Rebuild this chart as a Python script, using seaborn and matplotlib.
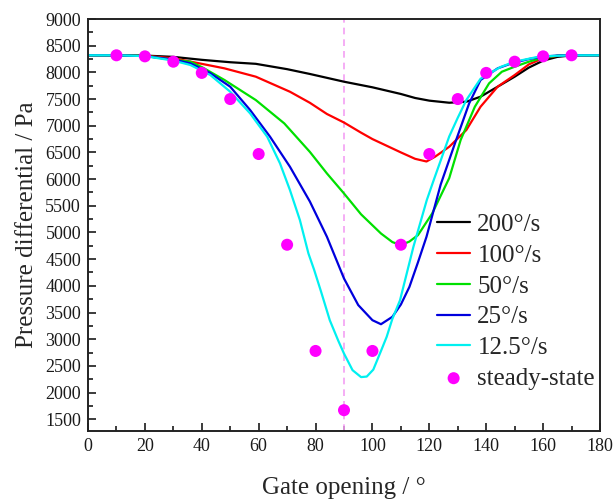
import numpy as np
import pandas as pd
import matplotlib
matplotlib.use("Agg")
import matplotlib.pyplot as plt
import seaborn as sns
from matplotlib.ticker import MultipleLocator

# ---- data ----
x_200 = [0, 10, 20, 30, 40, 50, 59, 70, 78, 90, 100, 110, 115, 120, 127, 133, 138, 144, 150, 155, 160, 165, 170, 180]
y_200 = [8320, 8320, 8315, 8290, 8235, 8190, 8160, 8060, 7970, 7825, 7720, 7595, 7520, 7470, 7431, 7450, 7544, 7731, 7919, 8090, 8220, 8290, 8318, 8320]

x_100 = [0, 10, 20, 30, 40, 48, 59, 71, 78, 84, 90, 96, 100, 110, 115, 119, 122, 127, 133, 138, 144, 150, 155, 160, 165, 170, 180]
y_100 = [8320, 8320, 8310, 8265, 8160, 8075, 7919, 7637, 7430, 7220, 7060, 6870, 6750, 6500, 6380, 6330, 6419, 6606, 6919, 7356, 7731, 7950, 8150, 8265, 8310, 8320, 8320]

x_50 = [0, 10, 20, 30, 36, 40, 48, 59, 69, 78, 84, 90, 96, 103, 107, 110, 113, 116, 121, 127, 131, 136, 141, 145.5, 150, 155, 160, 165, 170, 180]
y_50 = [8320, 8320, 8310, 8235, 8200, 8100, 7856, 7481, 7044, 6510, 6106, 5731, 5340, 4981, 4820, 4763, 4830, 4950, 5356, 6020, 6731, 7356, 7794, 8012, 8106, 8200, 8275, 8312, 8320, 8320]

x_25 = [0, 10, 20, 30, 36, 43, 50, 57, 64, 71, 78, 84, 90, 95, 100, 103, 107, 110, 113, 116, 119, 124, 129, 134, 138, 144, 149, 155, 160, 165, 170, 180]
y_25 = [8320, 8320, 8305, 8240, 8169, 7985, 7731, 7294, 6794, 6231, 5580, 4919, 4138, 3640, 3356, 3281, 3419, 3650, 3981, 4440, 4919, 5900, 6669, 7419, 7856, 8075, 8170, 8250, 8295, 8315, 8320, 8320]

x_125 = [0, 10, 20, 30, 36, 43, 50, 57, 63, 67.5, 71, 74.5, 77.5, 79.5, 82, 85, 88, 90, 93, 96, 98, 100.3, 103, 105, 107, 109.7, 112, 114.4, 117, 119.1, 121.4, 124, 127, 130, 133, 138, 145, 150, 159, 170, 180]
y_125 = [8320, 8320, 8305, 8220, 8138, 7950, 7637, 7231, 6794, 6294, 5794, 5231, 4606, 4300, 3880, 3356, 2970, 2731, 2420, 2290, 2300, 2430, 2780, 3044, 3380, 3731, 4220, 4731, 5215, 5606, 5960, 6350, 6800, 7150, 7481, 7880, 8100, 8200, 8300, 8320, 8320]

steady_x = [10, 20, 30, 40, 50, 60, 70, 80, 90, 100, 110, 120, 130, 140, 150, 160, 170]
steady_y = [8320, 8300, 8200, 7990, 7500, 6470, 4770, 2780, 1670, 2780, 4770, 6470, 7500, 7990, 8200, 8300, 8320]

labels = ["200°/s", "100°/s", "50°/s", "25°/s", "12.5°/s"]
colors = ["#000000", "#ff0000", "#00e000", "#0000dd", "#00f0f0"]
series_x = [x_200, x_100, x_50, x_25, x_125]
series_y = [y_200, y_100, y_50, y_25, y_125]

# ---- style ----
sns.set_style("ticks")
plt.rcParams["font.family"] = ["Liberation Serif", "DejaVu Serif"]

fig = plt.figure(figsize=(6.13, 5.0), dpi=100)
ax = fig.add_axes([88 / 613, 69 / 500, 512 / 613, 412 / 500])

ax.axvline(90, color="#f4a0f4", lw=1.2, ls=(0, (4, 3)), zorder=1)

for xs, ys, lab, col in zip(series_x, series_y, labels, colors):
    df = pd.DataFrame({"x": xs, "y": ys})
    sns.lineplot(data=df, x="x", y="y", color=col, lw=1.6, label=lab,
                 estimator=None, sort=False, ax=ax, zorder=2)
for ln in ax.get_lines():
    ln.set_solid_joinstyle("round")

sdf = pd.DataFrame({"x": steady_x, "y": steady_y})
sns.scatterplot(data=sdf, x="x", y="y", color="#ff00ff", s=75, edgecolor="none",
                label="steady-state", ax=ax, zorder=3)

ax.set_xlim(0, 180)
ax.set_ylim(1280, 9000)
ax.xaxis.set_major_locator(MultipleLocator(20))
ax.xaxis.set_minor_locator(MultipleLocator(10))
ax.yaxis.set_minor_locator(MultipleLocator(250))
ax.set_yticks(np.arange(1500, 9001, 500))
ax.tick_params(which="both", direction="in", top=False, right=False, labelsize=13, colors="#1a1a1a")
ax.tick_params(which="major", length=6, width=1.2, pad=5)
ax.tick_params(which="minor", length=3.5, width=1.2)
for sp in ax.spines.values():
    sp.set_visible(True)
    sp.set_linewidth(1.4)
    sp.set_color("#222222")

ax.set_xlabel("Gate opening / °", fontsize=18, labelpad=16)
ax.set_ylabel("Pressure differential / Pa", fontsize=18, labelpad=5)

leg = ax.legend(loc="center right", bbox_to_anchor=(1.0, 0.314), frameon=False,
                fontsize=18, handlelength=1.3, handletextpad=0.3, labelspacing=0.33,
                borderaxespad=0.1, borderpad=0.1)

fig.savefig("out.png", dpi=100)
